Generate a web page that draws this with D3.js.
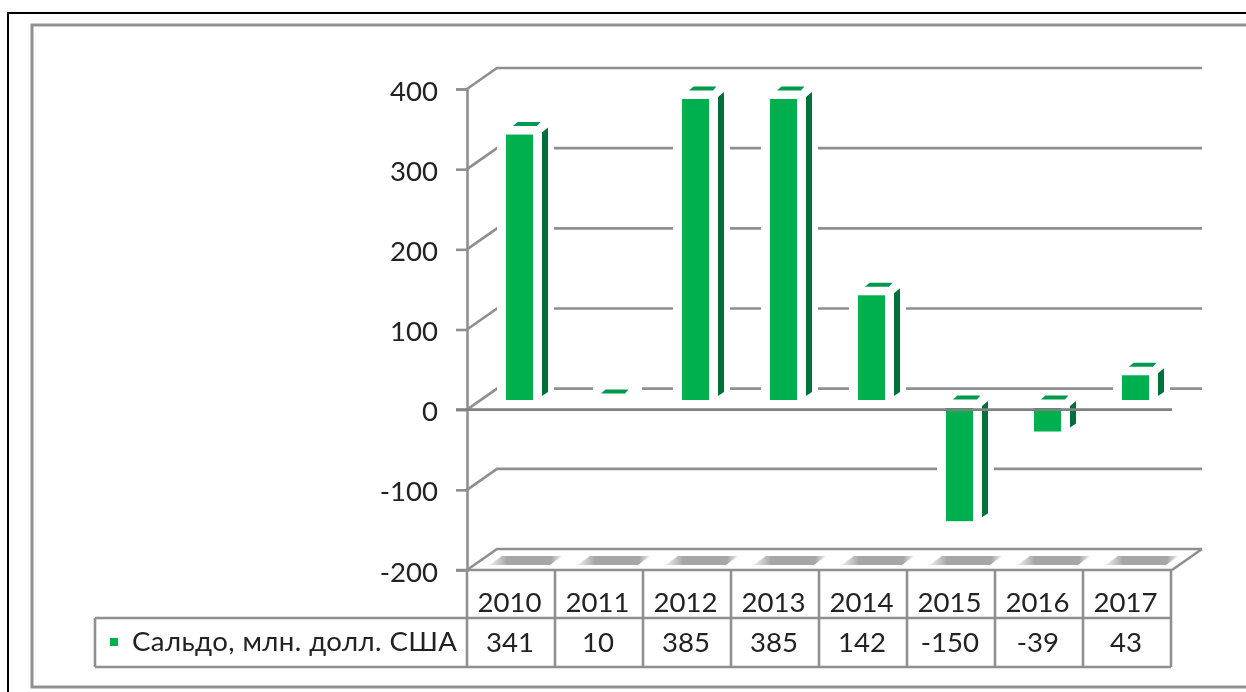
<!DOCTYPE html>
<html>
<head>
<meta charset="utf-8">
<script src="https://cdn.jsdelivr.net/npm/d3@7"></script>
<style>
  html, body { margin: 0; padding: 0; background: #fff; overflow: hidden; }
  text { font-family: Lato, "Open Sans", sans-serif; fill: #222; }
</style>
</head>
<body>
<svg id="chart" width="1246" height="692"></svg>
<script>
"use strict";

const years = ["2010", "2011", "2012", "2013", "2014", "2015", "2016", "2017"];
const saldo = [341, 10, 385, 385, 142, -150, -39, 43];
const yTicks = [400, 300, 200, 100, 0, -100, -200];
const seriesName = "Сальдо, млн. долл. США";

const grey = "#8f8f8f";
const lineW = 2.6;
const fontSize = 27.6;
const depthX = 30, depthY = 21; // 3d wall offset

const svg = d3.select("#chart");
const defs = svg.append("defs");

defs.append("filter").attr("id", "soft").append("feGaussianBlur").attr("stdDeviation", 0.5);

let grad = defs.append("linearGradient").attr("id", "floorShade");
grad.append("stop").attr("offset", "0").attr("stop-color", "#a6a6a6").attr("stop-opacity", 0.15);
grad.append("stop").attr("offset", "0.25").attr("stop-color", "#a6a6a6");
grad.append("stop").attr("offset", "0.85").attr("stop-color", "#a6a6a6");
grad.append("stop").attr("offset", "1").attr("stop-color", "#a6a6a6").attr("stop-opacity", 0.2);

const root = svg.append("g").attr("filter", "url(#soft)");

// outer frames
root.append("path").attr("d", "M8,692V13H1246").attr("fill", "none").attr("stroke", "#000").attr("stroke-width", 2);
root.append("path").attr("d", "M1246,25H32V687H1246").attr("fill", "none").attr("stroke", "#919191").attr("stroke-width", 3);

const x = d3.scaleBand().domain(years).range([467, 1171]);
const y = d3.scaleLinear().domain([-200, 400]).range([570, 89]);
const yBar = d3.scaleLinear().domain([0, 385]).range([410, 99]);

// back wall grid lines and the slanted side wall
const grid = root.append("g");
yTicks.forEach(t => {
  grid.append("path")
    .attr("d", `M${x.range()[0]},${y(t)}l${depthX},${-depthY}H1202`)
    .attr("fill", "none").attr("stroke", grey).attr("stroke-width", lineW);
});

// floor
grid.append("path")
  .attr("d", `M1202,${y(-200) - depthY}L1172,${y(-200)}`)
  .attr("fill", "none").attr("stroke", grey).attr("stroke-width", lineW);

const shade = root.append("g");
years.forEach(yr => {
  let x0 = x(yr);
  shade.append("path")
    .attr("d", `M${x0 + 22},565L${x0 + 35},556H${x0 + 95}L${x0 + 83},565Z`)
    .attr("fill", "url(#floorShade)");
});

// bars
const bars = root.selectAll("g.bar").data(saldo).join("g").attr("class", "bar");

bars.each(function (v, i) {
  let g = d3.select(this);
  let x0 = x(years[i]) + 39;
  let top = v >= 0 ? yBar(v) : 408;
  let bottom = v >= 0 ? 400 : yBar(v) - 10;
  let hasFace = bottom > top;

  // white halo cuts the grid lines behind the bar
  g.append("rect")
    .attr("x", hasFace ? x0 - 9 : x0 - 1)
    .attr("y", top - 16)
    .attr("width", hasFace ? 57 : 49)
    .attr("height", Math.max(bottom - top, 0) + 16)
    .attr("fill", "#fff");

  g.append("path")
    .attr("d", `M${x0 + 7},${top - 8.5}l4.5,-4h23l-3.5,4Z`)
    .attr("fill", "#00994d");

  if (!hasFace) return;

  g.append("rect")
    .attr("x", x0).attr("y", top)
    .attr("width", 27).attr("height", bottom - top)
    .attr("fill", "#00b050");

  g.append("path")
    .attr("d", `M${x0 + 36},${top - 2}l6,-5V${bottom - 8}l-6,4Z`)
    .attr("fill", "#00713a");
});

// value axis
const axis = root.append("g")
  .attr("transform", `translate(${x.range()[0]},0)`)
  .call(d3.axisLeft(y).tickValues(yTicks).tickSize(11).tickPadding(18).tickFormat(d => String(d)));
axis.select(".domain").attr("stroke", grey).attr("stroke-width", lineW);
axis.selectAll(".tick line").attr("stroke", grey).attr("stroke-width", lineW);
axis.selectAll(".tick text").attr("font-size", fontSize).attr("dy", "0.4em");

// zero line on top of the bars
root.append("line")
  .attr("x1", 456).attr("x2", 1172).attr("y1", y(0)).attr("y2", y(0))
  .attr("stroke", "#808080").attr("stroke-width", lineW);

// data table
const rowTop = 570, rowMid = 618, rowBottom = 667;
const table = root.append("g").attr("fill", "none").attr("stroke", grey).attr("stroke-width", lineW);
table.append("line").attr("x1", 456).attr("x2", 1172).attr("y1", rowTop).attr("y2", rowTop);
table.append("line").attr("x1", 95).attr("x2", 1171).attr("y1", rowMid).attr("y2", rowMid);
table.append("line").attr("x1", 95).attr("x2", 1171).attr("y1", rowBottom).attr("y2", rowBottom);
table.append("line").attr("x1", 95).attr("x2", 95).attr("y1", rowMid).attr("y2", rowBottom);
years.concat(["end"]).forEach((yr, i) => {
  let px = x.range()[0] + i * x.step();
  table.append("line").attr("x1", px).attr("x2", px).attr("y1", rowTop).attr("y2", rowBottom);
});

root.selectAll("text.year").data(years).join("text").attr("class", "year")
  .attr("x", d => x(d) + x.bandwidth() / 2 - 1.5).attr("y", 612)
  .attr("text-anchor", "middle").attr("font-size", fontSize).text(d => d);

root.selectAll("text.val").data(saldo).join("text").attr("class", "val")
  .attr("x", (d, i) => x(years[i]) + x.bandwidth() / 2 - 1).attr("y", 652)
  .attr("text-anchor", "middle").attr("font-size", fontSize).text(d => d);

// legend key
root.append("rect").attr("x", 110).attr("y", 638).attr("width", 8).attr("height", 8).attr("fill", "#00b050");
root.append("text").attr("x", 132).attr("y", 651).attr("font-size", fontSize)
  .attr("textLength", 325).attr("lengthAdjust", "spacing").text(seriesName);
</script>
</body>
</html>
